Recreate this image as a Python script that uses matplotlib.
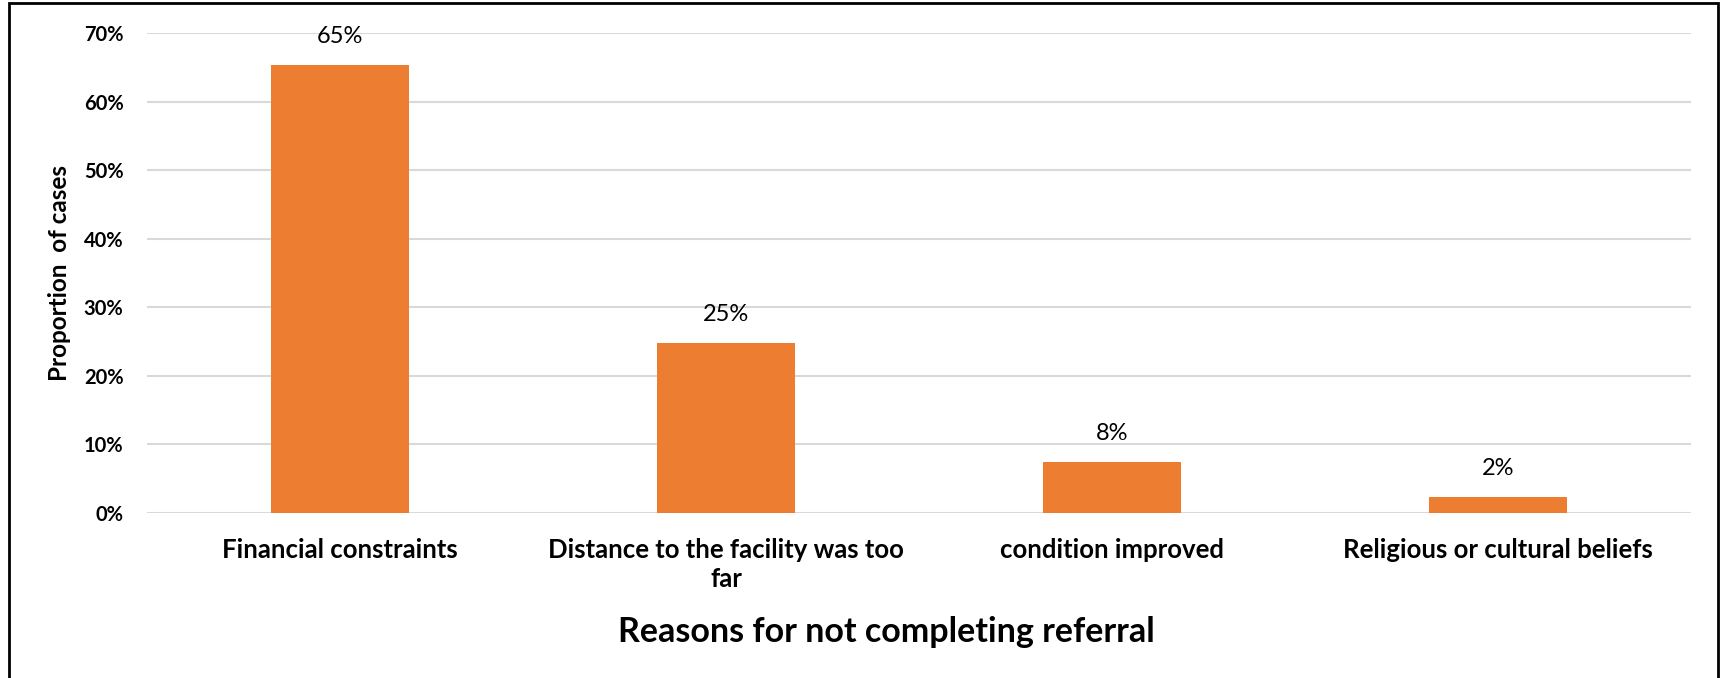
import matplotlib
matplotlib.use('Agg')
import matplotlib.pyplot as plt
from matplotlib.patches import Rectangle
from matplotlib.ticker import PercentFormatter

plt.rcParams['font.family'] = ['Lato', 'DejaVu Sans']

# data
categories = ['Financial constraints', 'Distance to the facility was too\nfar',
              'condition improved', 'Religious or cultural beliefs']
values = [0.653, 0.248, 0.075, 0.023]
value_labels = ['65%', '25%', '8%', '2%']
yticks = [0, 0.1, 0.2, 0.3, 0.4, 0.5, 0.6, 0.7]

bar_color = '#ED7D31'
grid_color = '#d9d9d9'

fig = plt.figure(figsize=(17.21, 6.78), dpi=100)
ax = fig.add_axes([147 / 1721, 1 - 513 / 678, (1691 - 147) / 1721, (513 - 33) / 678])

x = range(len(categories))
bars = ax.bar(x, values, width=0.355, color=bar_color, zorder=3)

for b, lab in zip(bars, value_labels):
    ax.annotate(lab, (b.get_x() + b.get_width() / 2, b.get_height()),
                xytext=(0, 13), textcoords='offset points',
                ha='center', va='bottom', fontsize=17, color='black')

ax.set_xlim(-0.5, len(categories) - 0.5)
ax.set_ylim(0, 0.7)
ax.set_yticks(yticks)
ax.yaxis.set_major_formatter(PercentFormatter(1.0, decimals=0))
ax.set_xticks(list(x))
ax.set_xticklabels(categories, fontsize=18.5, fontweight='bold', linespacing=1.25)
ax.tick_params(axis='x', length=0, pad=18)
ax.tick_params(axis='y', length=0, pad=17, labelsize=14.5)
for t in ax.get_yticklabels():
    t.set_fontweight('bold')

ax.grid(axis='y', color=grid_color, linewidth=1.5, zorder=0)
for s in ax.spines.values():
    s.set_visible(False)

ax.set_xlabel('Reasons for not completing referral', fontsize=24.5, fontweight='bold')
ax.xaxis.set_label_coords(0.479, -0.215)
ax.set_ylabel('Proportion  of cases', fontsize=17.5, fontweight='bold', labelpad=9)

# outer frame
fig.patches.append(Rectangle((9 / 1721, -0.05), (1718 - 9) / 1721, 1.05 - 3 / 678,
                             transform=fig.transFigure, fill=False,
                             edgecolor='black', linewidth=2))

fig.savefig('out.png', dpi=100, facecolor='white')
